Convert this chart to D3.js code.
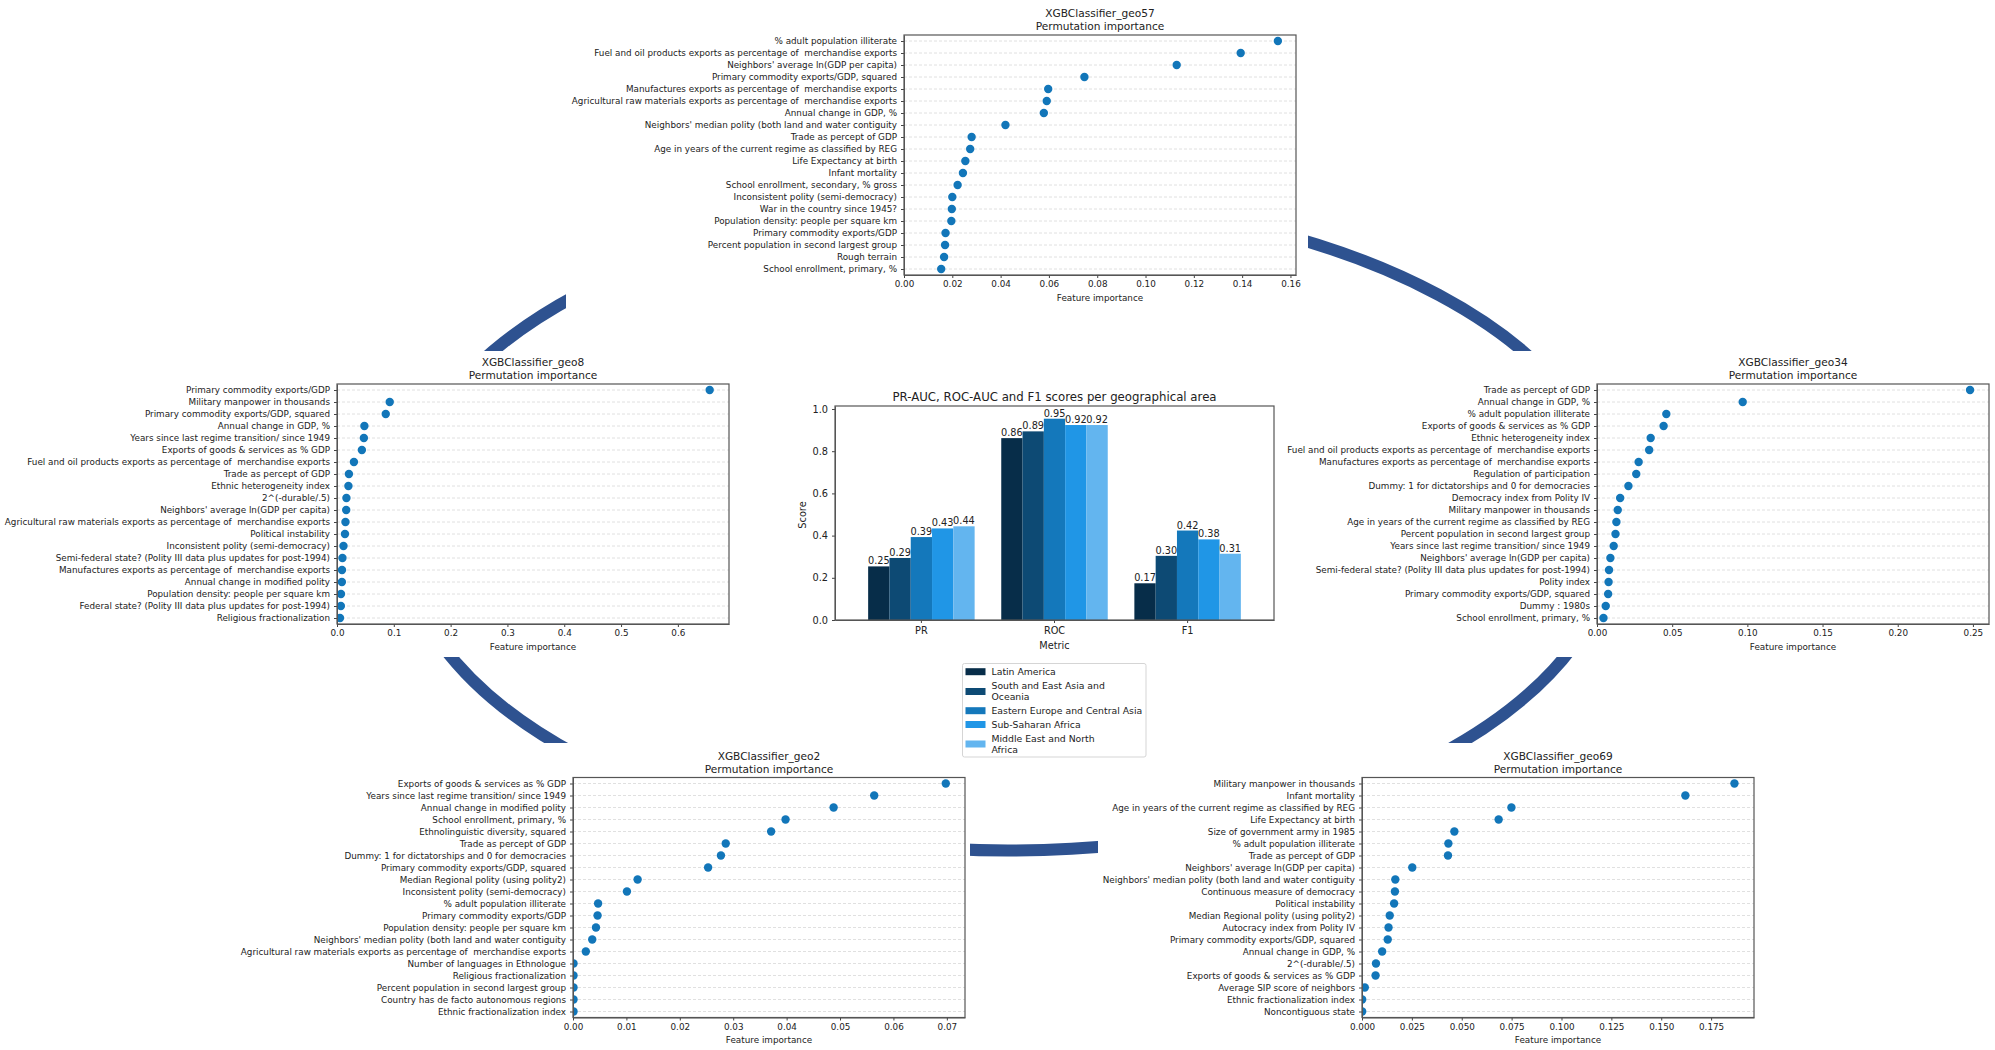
<!DOCTYPE html>
<html>
<head>
<meta charset="utf-8">
<title>Permutation importance per geographical area</title>
<script src="https://cdn.jsdelivr.net/npm/d3@7"></script>
<style>
  body { margin: 0; background: #fff; }
  text { font-family: "DejaVu Sans", sans-serif; fill: #222; white-space: pre; }
  .domain { stroke: #555; }
  .tick line { stroke: #444; }
</style>
</head>
<body>
<div id="chart"></div>
<script>
// frame constants
const FRAME_WIDTH = 1995;
const FRAME_HEIGHT = 1050;
const PANEL_WIDTH = 392;
const PANEL_HEIGHT = 240;
const DOT_COLOR = "#1276b9";
const PANEL_FONT = "8.8px";
const PANEL_TITLE_FONT = "10.6px";

// bar chart data
const METRICS = ["PR", "ROC", "F1"];
const REGIONS = ["Latin America", "South and East Asia and Oceania", "Eastern Europe and Central Asia", "Sub-Saharan Africa", "Middle East and North Africa"];
const REGION_COLORS = ["#072d49", "#0d4a74", "#1478bb", "#2096e6", "#63b5ef"];
const PR_SCORES = [0.254, 0.294, 0.393, 0.434, 0.444];
const ROC_SCORES = [0.862, 0.894, 0.954, 0.924, 0.924];
const F1_SCORES = [0.174, 0.304, 0.424, 0.382, 0.314];
const SCORE_TICKS = [0, 0.2, 0.4, 0.6, 0.8, 1.0];

// feature importance data, one pair of lists per panel
const GEO57_FEATURES = ["% adult population illiterate", "Fuel and oil products exports as percentage of  merchandise exports", "Neighbors' average ln(GDP per capita)", "Primary commodity exports/GDP, squared", "Manufactures exports as percentage of  merchandise exports", "Agricultural raw materials exports as percentage of  merchandise exports", "Annual change in GDP, %", "Neighbors' median polity (both land and water contiguity", "Trade as percept of GDP", "Age in years of the current regime as classified by REG", "Life Expectancy at birth", "Infant mortality", "School enrollment, secondary, % gross", "Inconsistent polity (semi-democracy)", "War in the country since 1945?", "Population density: people per square km", "Primary commodity exports/GDP", "Percent population in second largest group", "Rough terrain", "School enrollment, primary, %"];
const GEO57_VALUES = [0.1548, 0.1394, 0.1129, 0.0747, 0.0597, 0.0591, 0.0579, 0.042, 0.028, 0.0274, 0.0254, 0.0244, 0.0222, 0.02, 0.0198, 0.0196, 0.0172, 0.017, 0.0166, 0.0154];
const GEO57_TICKS = [0, 0.02, 0.04, 0.06, 0.08, 0.10, 0.12, 0.14, 0.16];

const GEO8_FEATURES = ["Primary commodity exports/GDP", "Military manpower in thousands", "Primary commodity exports/GDP, squared", "Annual change in GDP, %", "Years since last regime transition/ since 1949", "Exports of goods & services as % GDP", "Fuel and oil products exports as percentage of  merchandise exports", "Trade as percept of GDP", "Ethnic heterogeneity index", "2^(-durable/.5)", "Neighbors' average ln(GDP per capita)", "Agricultural raw materials exports as percentage of  merchandise exports", "Political instability", "Inconsistent polity (semi-democracy)", "Semi-federal state? (Polity III data plus updates for post-1994)", "Manufactures exports as percentage of  merchandise exports", "Annual change in modified polity", "Population density: people per square km", "Federal state? (Polity III data plus updates for post-1994)", "Religious fractionalization"];
const GEO8_VALUES = [0.656, 0.0928, 0.0858, 0.0482, 0.0473, 0.0438, 0.0298, 0.021, 0.0201, 0.0166, 0.0162, 0.0149, 0.014, 0.0114, 0.0096, 0.0088, 0.0086, 0.007, 0.0068, 0.0053];
const GEO8_TICKS = [0, 0.1, 0.2, 0.3, 0.4, 0.5, 0.6];

const GEO34_FEATURES = ["Trade as percept of GDP", "Annual change in GDP, %", "% adult population illiterate", "Exports of goods & services as % GDP", "Ethnic heterogeneity index", "Fuel and oil products exports as percentage of  merchandise exports", "Manufactures exports as percentage of  merchandise exports", "Regulation of participation", "Dummy: 1 for dictatorships and 0 for democracies", "Democracy index from Polity IV", "Military manpower in thousands", "Age in years of the current regime as classified by REG", "Percent population in second largest group", "Years since last regime transition/ since 1949", "Neighbors' average ln(GDP per capita)", "Semi-federal state? (Polity III data plus updates for post-1994)", "Polity index", "Primary commodity exports/GDP, squared", "Dummy : 1980s", "School enrollment, primary, %"];
const GEO34_VALUES = [0.2481, 0.0969, 0.0461, 0.0443, 0.0357, 0.0347, 0.0277, 0.0261, 0.0209, 0.0154, 0.0138, 0.0129, 0.0123, 0.0111, 0.0089, 0.008, 0.0077, 0.0074, 0.0058, 0.0043];
const GEO34_TICKS = [0, 0.05, 0.10, 0.15, 0.20, 0.25];

const GEO2_FEATURES = ["Exports of goods & services as % GDP", "Years since last regime transition/ since 1949", "Annual change in modified polity", "School enrollment, primary, %", "Ethnolinguistic diversity, squared", "Trade as percept of GDP", "Dummy: 1 for dictatorships and 0 for democracies", "Primary commodity exports/GDP, squared", "Median Regional polity (using polity2)", "Inconsistent polity (semi-democracy)", "% adult population illiterate", "Primary commodity exports/GDP", "Population density: people per square km", "Neighbors' median polity (both land and water contiguity", "Agricultural raw materials exports as percentage of  merchandise exports", "Number of languages in Ethnologue", "Religious fractionalization", "Percent population in second largest group", "Country has de facto autonomous regions", "Ethnic fractionalization index"];
const GEO2_VALUES = [0.0698, 0.0564, 0.0488, 0.0398, 0.0371, 0.0286, 0.0277, 0.0253, 0.0121, 0.0101, 0.0047, 0.0046, 0.0043, 0.0036, 0.0024, 0.0001, 0.0001, 0.0001, 0.0001, 0.0001];
const GEO2_TICKS = [0, 0.01, 0.02, 0.03, 0.04, 0.05, 0.06, 0.07];

const GEO69_FEATURES = ["Military manpower in thousands", "Infant mortality", "Age in years of the current regime as classified by REG", "Life Expectancy at birth", "Size of government army in 1985", "% adult population illiterate", "Trade as percept of GDP", "Neighbors' average ln(GDP per capita)", "Neighbors' median polity (both land and water contiguity", "Continuous measure of democracy", "Political instability", "Median Regional polity (using polity2)", "Autocracy index from Polity IV", "Primary commodity exports/GDP, squared", "Annual change in GDP, %", "2^(-durable/.5)", "Exports of goods & services as % GDP", "Average SIP score of neighbors", "Ethnic fractionalization index", "Noncontiguous state"];
const GEO69_VALUES = [0.1867, 0.1621, 0.0749, 0.0685, 0.0463, 0.0433, 0.0431, 0.0252, 0.0167, 0.0165, 0.0161, 0.0139, 0.0133, 0.0129, 0.0101, 0.007, 0.0068, 0.0014, 0.0001, 0.0001];
const GEO69_TICKS = [0, 0.025, 0.05, 0.075, 0.10, 0.125, 0.15, 0.175];

// where each panel sits, cover is the white area of the pasted plot over the ring
const PANELS = [
  {name: "XGBClassifier_geo57", features: GEO57_FEATURES, values: GEO57_VALUES, ticks: GEO57_TICKS, xMax: 0.1623, fmt: ".2f", left: 904, top: 35, cover: [566, 0, 1308, 320]},
  {name: "XGBClassifier_geo8", features: GEO8_FEATURES, values: GEO8_VALUES, ticks: GEO8_TICKS, xMax: 0.69, fmt: ".1f", left: 337, top: 384, cover: [0, 351, 800, 657]},
  {name: "XGBClassifier_geo34", features: GEO34_FEATURES, values: GEO34_VALUES, ticks: GEO34_TICKS, xMax: 0.2607, fmt: ".2f", left: 1597, top: 384, cover: [1270, 351, 1995, 657]},
  {name: "XGBClassifier_geo2", features: GEO2_FEATURES, values: GEO2_VALUES, ticks: GEO2_TICKS, xMax: 0.0734, fmt: ".2f", left: 573, top: 777.5, cover: [370, 743, 970, 1050]},
  {name: "XGBClassifier_geo69", features: GEO69_FEATURES, values: GEO69_VALUES, ticks: GEO69_TICKS, xMax: 0.1965, fmt: ".3f", left: 1362, top: 777.5, cover: [1098, 743, 1800, 1050]}
];

const FRAME = d3.select("#chart")
  .append("svg")
  .attr("width", FRAME_WIDTH)
  .attr("height", FRAME_HEIGHT)
  .style("display", "block");

// the ring of the cycle diagram, the panels cut it into arcs
FRAME.append("ellipse")
  .attr("cx", 1008)
  .attr("cy", 525)
  .attr("rx", 609)
  .attr("ry", 325.5)
  .attr("fill", "none")
  .attr("stroke", "#2e5290")
  .attr("stroke-width", 12);

PANELS.forEach((p) => {
  FRAME.append("rect")
    .attr("x", p.cover[0])
    .attr("y", p.cover[1])
    .attr("width", p.cover[2] - p.cover[0])
    .attr("height", p.cover[3] - p.cover[1])
    .attr("fill", "#fff");
});

PANELS.forEach(drawPanel);
drawBars();

function drawPanel(p, i) {
  const g = FRAME.append("g").attr("transform", "translate(" + p.left + "," + p.top + ")");

  const X_SCALE = d3.scaleLinear().domain([0, p.xMax]).range([0, PANEL_WIDTH]);
  const Y_SCALE = d3.scalePoint().domain(p.features).range([0, PANEL_HEIGHT]).padding(0.5);

  // dashed line behind every feature
  g.selectAll(".grid")
    .data(p.features)
    .enter()
    .append("line")
    .attr("x1", 0)
    .attr("x2", PANEL_WIDTH)
    .attr("y1", (d) => { return Y_SCALE(d); })
    .attr("y2", (d) => { return Y_SCALE(d); })
    .attr("stroke", "#d8d8d8")
    .attr("stroke-width", 0.8)
    .attr("stroke-dasharray", "3,2");

  // dots at zero get cut by the axes edge
  const CLIP_ID = "clip" + i;
  g.append("clipPath").attr("id", CLIP_ID)
    .append("rect")
    .attr("width", PANEL_WIDTH)
    .attr("height", PANEL_HEIGHT);

  g.append("g").attr("clip-path", "url(#" + CLIP_ID + ")")
    .selectAll("circle")
    .data(p.values)
    .enter()
    .append("circle")
    .attr("cx", (d) => { return X_SCALE(d); })
    .attr("cy", (d, j) => { return Y_SCALE(p.features[j]); })
    .attr("r", 4.2)
    .attr("fill", DOT_COLOR);

  g.append("g")
    .attr("transform", "translate(0," + PANEL_HEIGHT + ")")
    .call(d3.axisBottom(X_SCALE).tickValues(p.ticks).tickFormat(d3.format(p.fmt)).tickSize(3).tickPadding(3).tickSizeOuter(0))
    .attr("font-size", PANEL_FONT)
    .attr("font-family", null);

  g.append("g")
    .call(d3.axisLeft(Y_SCALE).tickSize(3).tickPadding(4).tickSizeOuter(0))
    .attr("font-size", PANEL_FONT)
    .attr("font-family", null);

  frameBox(g, PANEL_WIDTH, PANEL_HEIGHT);

  g.append("text")
    .attr("x", PANEL_WIDTH / 2)
    .attr("y", PANEL_HEIGHT + 25.5)
    .attr("text-anchor", "middle")
    .attr("font-size", PANEL_FONT)
    .text("Feature importance");

  g.append("text")
    .attr("x", PANEL_WIDTH / 2)
    .attr("y", -18)
    .attr("text-anchor", "middle")
    .attr("font-size", PANEL_TITLE_FONT)
    .text(p.name);

  g.append("text")
    .attr("x", PANEL_WIDTH / 2)
    .attr("y", -5)
    .attr("text-anchor", "middle")
    .attr("font-size", PANEL_TITLE_FONT)
    .text("Permutation importance");
}

function frameBox(g, w, h) {
  g.append("rect")
    .attr("width", w)
    .attr("height", h)
    .attr("fill", "none")
    .attr("stroke", "#555")
    .attr("stroke-width", 1.2);
}

function drawBars() {
  const BAR_LEFT = 835, BAR_TOP = 406, BAR_WIDTH = 439, BAR_HEIGHT = 214;
  const g = FRAME.append("g").attr("transform", "translate(" + BAR_LEFT + "," + BAR_TOP + ")");
  const SCORES = [PR_SCORES, ROC_SCORES, F1_SCORES];

  const X_SCALE = d3.scaleBand().domain(METRICS).range([0, BAR_WIDTH]).paddingInner(0.2).paddingOuter(0.249);
  const X_INNER = d3.scaleBand().domain(REGIONS).range([0, X_SCALE.bandwidth()]);
  const Y_SCALE = d3.scaleLinear().domain([0, 1.0142]).range([BAR_HEIGHT, 0]);

  const GROUPS = g.selectAll(".group")
    .data(METRICS)
    .enter()
    .append("g")
    .attr("transform", (d) => { return "translate(" + X_SCALE(d) + ",0)"; });

  GROUPS.selectAll("rect")
    .data((d, i) => { return SCORES[i]; })
    .enter()
    .append("rect")
    .attr("x", (d, j) => { return X_INNER(REGIONS[j]); })
    .attr("y", (d) => { return Y_SCALE(d); })
    .attr("width", X_INNER.bandwidth())
    .attr("height", (d) => { return BAR_HEIGHT - Y_SCALE(d); })
    .attr("fill", (d, j) => { return REGION_COLORS[j]; });

  GROUPS.selectAll("text")
    .data((d, i) => { return SCORES[i]; })
    .enter()
    .append("text")
    .attr("x", (d, j) => { return X_INNER(REGIONS[j]) + X_INNER.bandwidth() / 2; })
    .attr("y", (d) => { return Y_SCALE(d) - 2; })
    .attr("text-anchor", "middle")
    .attr("font-size", "9.75px")
    .text((d) => { return d3.format(".2f")(d); });

  g.append("g")
    .attr("transform", "translate(0," + BAR_HEIGHT + ")")
    .call(d3.axisBottom(X_SCALE).tickSize(3).tickPadding(4).tickSizeOuter(0))
    .attr("font-size", "9.75px")
    .attr("font-family", null);

  g.append("g")
    .call(d3.axisLeft(Y_SCALE).tickValues(SCORE_TICKS).tickFormat(d3.format(".1f")).tickSize(3).tickPadding(4).tickSizeOuter(0))
    .attr("font-size", "9.75px")
    .attr("font-family", null);

  frameBox(g, BAR_WIDTH, BAR_HEIGHT);

  g.append("text")
    .attr("x", BAR_WIDTH / 2)
    .attr("y", -5.5)
    .attr("text-anchor", "middle")
    .attr("font-size", "11.75px")
    .text("PR-AUC, ROC-AUC and F1 scores per geographical area");

  g.append("text")
    .attr("x", BAR_WIDTH / 2)
    .attr("y", BAR_HEIGHT + 28.5)
    .attr("text-anchor", "middle")
    .attr("font-size", "9.75px")
    .text("Metric");

  g.append("text")
    .attr("transform", "translate(-29," + (BAR_HEIGHT / 2 + 2) + ") rotate(-90)")
    .attr("text-anchor", "middle")
    .attr("font-size", "9.75px")
    .text("Score");

  drawLegend();
}

function drawLegend() {
  // wrapped names, rows are as tall as their number of lines
  const LEGEND_LINES = [["Latin America"], ["South and East Asia and", "Oceania"], ["Eastern Europe and Central Asia"], ["Sub-Saharan Africa"], ["Middle East and North", "Africa"]];
  const ROW_CENTERS = [671.7, 691.5, 710.7, 724.5, 744];
  const g = FRAME.append("g");

  g.append("rect")
    .attr("x", 962.5)
    .attr("y", 663.5)
    .attr("width", 183.5)
    .attr("height", 93.5)
    .attr("rx", 2)
    .attr("fill", "#fff")
    .attr("stroke", "#d5d5d5");

  LEGEND_LINES.forEach((lines, i) => {
    g.append("rect")
      .attr("x", 965.5)
      .attr("y", ROW_CENTERS[i] - 3.5)
      .attr("width", 20)
      .attr("height", 7)
      .attr("fill", REGION_COLORS[i]);

    lines.forEach((line, k) => {
      g.append("text")
        .attr("x", 991.5)
        .attr("y", ROW_CENTERS[i] + 3.3 + (k - (lines.length - 1) / 2) * 11)
        .attr("font-size", "9.3px")
        .text(line);
    });
  });
}
</script>
</body>
</html>
